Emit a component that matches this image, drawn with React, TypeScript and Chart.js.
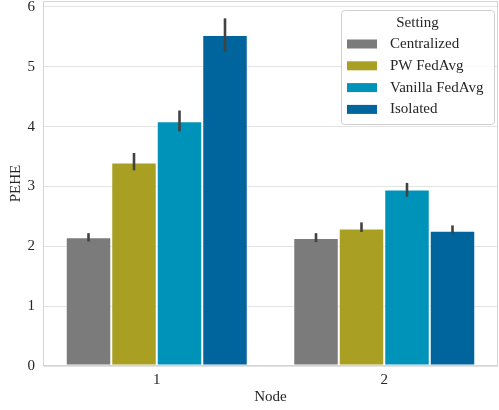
import React, { useEffect, useRef } from "react";
import { Chart, registerables } from "chart.js";

Chart.register(...registerables);

const categories = ["1", "2"];
const seriesNames = ["Centralized", "PW FedAvg", "Vanilla FedAvg", "Isolated"];
const seriesColors = ["#7b7b7b", "#a9a023", "#0093b9", "#00659d"];

const centralized = [2.15, 2.14];
const centralizedLo = [2.08, 2.07];
const centralizedHi = [2.22, 2.22];

const pwFedAvg = [3.4, 2.3];
const pwFedAvgLo = [3.27, 2.24];
const pwFedAvgHi = [3.56, 2.4];

const vanillaFedAvg = [4.09, 2.95];
const vanillaFedAvgLo = [3.92, 2.83];
const vanillaFedAvgHi = [4.27, 3.06];

const isolated = [5.53, 2.26];
const isolatedLo = [5.25, 2.2];
const isolatedHi = [5.81, 2.35];

const seriesValues = [centralized, pwFedAvg, vanillaFedAvg, isolated];
const seriesLo = [centralizedLo, pwFedAvgLo, vanillaFedAvgLo, isolatedLo];
const seriesHi = [centralizedHi, pwFedAvgHi, vanillaFedAvgHi, isolatedHi];

const yTicks = [0, 1, 2, 3, 4, 5, 6];

const FONT = "'Liberation Serif', 'DejaVu Serif', serif";

const framePlugin = {
  id: "frame",
  afterDraw(chart: any) {
    const { ctx, chartArea } = chart;
    ctx.save();
    ctx.strokeStyle = "#d4d4d4";
    ctx.lineWidth = 1;
    ctx.strokeRect(
      Math.round(chartArea.left) + 0.5,
      Math.round(chartArea.top) + 0.5,
      Math.round(chartArea.right - chartArea.left) - 1,
      Math.round(chartArea.bottom - chartArea.top) - 1
    );
    ctx.restore();
  },
};

const errorBarPlugin = {
  id: "errorBars",
  afterDatasetsDraw(chart: any) {
    const { ctx } = chart;
    const yScale = chart.scales.y;
    ctx.save();
    ctx.strokeStyle = "#424242";
    ctx.lineWidth = 2.6;
    chart.data.datasets.forEach((ds: any, i: number) => {
      const meta = chart.getDatasetMeta(i);
      meta.data.forEach((bar: any, j: number) => {
        const lo = ds.errLo[j];
        const hi = ds.errHi[j];
        const x = bar.x;
        ctx.beginPath();
        ctx.moveTo(x, yScale.getPixelForValue(lo));
        ctx.lineTo(x, yScale.getPixelForValue(hi));
        ctx.stroke();
      });
    });
    ctx.restore();
  },
};

const legendPlugin = {
  id: "boxLegend",
  afterDraw(chart: any) {
    const { ctx } = chart;
    const x0 = 341;
    const y0 = 10;
    const w = 153;
    const h = 114;
    ctx.save();
    ctx.fillStyle = "rgba(255,255,255,0.85)";
    ctx.strokeStyle = "#cfcfcf";
    ctx.lineWidth = 1;
    ctx.beginPath();
    (ctx as any).roundRect(x0 + 0.5, y0 + 0.5, w, h, 3);
    ctx.fill();
    ctx.stroke();
    ctx.fillStyle = "#262626";
    ctx.font = `15px ${FONT}`;
    ctx.textBaseline = "middle";
    ctx.textAlign = "center";
    ctx.fillText("Setting", x0 + w / 2, y0 + 13);
    ctx.textAlign = "left";
    chart.data.datasets.forEach((ds: any, i: number) => {
      const cy = y0 + 34 + i * 21.8;
      ctx.fillStyle = ds.backgroundColor;
      ctx.fillRect(x0 + 6, cy - 4.5, 30, 9);
      ctx.fillStyle = "#262626";
      ctx.fillText(ds.label, x0 + 49, cy);
    });
    ctx.restore();
  },
};

export default function App() {
  const ref = useRef<HTMLCanvasElement | null>(null);

  useEffect(() => {
    document.body.style.margin = "0";
    if (!ref.current) return;
    const chart = new Chart(ref.current, {
      type: "bar",
      data: {
        labels: categories,
        datasets: seriesNames.map((name, i) => ({
          label: name,
          data: seriesValues[i],
          errLo: seriesLo[i],
          errHi: seriesHi[i],
          backgroundColor: seriesColors[i],
          borderColor: "rgba(255,255,255,0.65)",
          borderWidth: 1,
          borderSkipped: false,
          categoryPercentage: 0.8,
          barPercentage: 1.0,
        })) as any,
      },
      options: {
        animation: false,
        responsive: false,
        maintainAspectRatio: false,
        layout: { padding: { left: 0, right: 1, top: 1, bottom: 0 } },
        plugins: {
          legend: { display: false },
          tooltip: { enabled: false },
        },
        scales: {
          x: {
            grid: { display: false, drawTicks: false },
            border: { display: false },
            ticks: {
              padding: 5,
              color: "#262626",
              font: { family: FONT, size: 15 },
            },
            title: {
              display: true,
              text: "Node",
              color: "#262626",
              font: { family: FONT, size: 15 },
              padding: { top: 0, bottom: 4 },
            },
            afterFit(scale: any) {
              scale.height = 44;
              scale.paddingLeft = 0;
              scale.paddingRight = 0;
            },
          },
          y: {
            min: 0,
            max: 6.1,
            grid: { color: "#e3e3e3", lineWidth: 1, drawTicks: false },
            border: { display: false },
            afterBuildTicks(scale: any) {
              scale.ticks = yTicks.map((v) => ({ value: v }));
            },
            ticks: {
              padding: 8,
              color: "#262626",
              font: { family: FONT, size: 15 },
            },
            title: {
              display: true,
              text: "PEHE",
              color: "#262626",
              font: { family: FONT, size: 15 },
              padding: { top: 7, bottom: 0 },
            },
            afterFit(scale: any) {
              scale.width = 43;
              scale.paddingTop = 0;
              scale.paddingBottom = 0;
            },
          },
        },
      },
      plugins: [framePlugin, errorBarPlugin, legendPlugin],
    });
    return () => chart.destroy();
  }, []);

  return (
    <div style={{ width: 499, height: 410 }}>
      <canvas ref={ref} width={499} height={410} style={{ display: "block" }} />
    </div>
  );
}
